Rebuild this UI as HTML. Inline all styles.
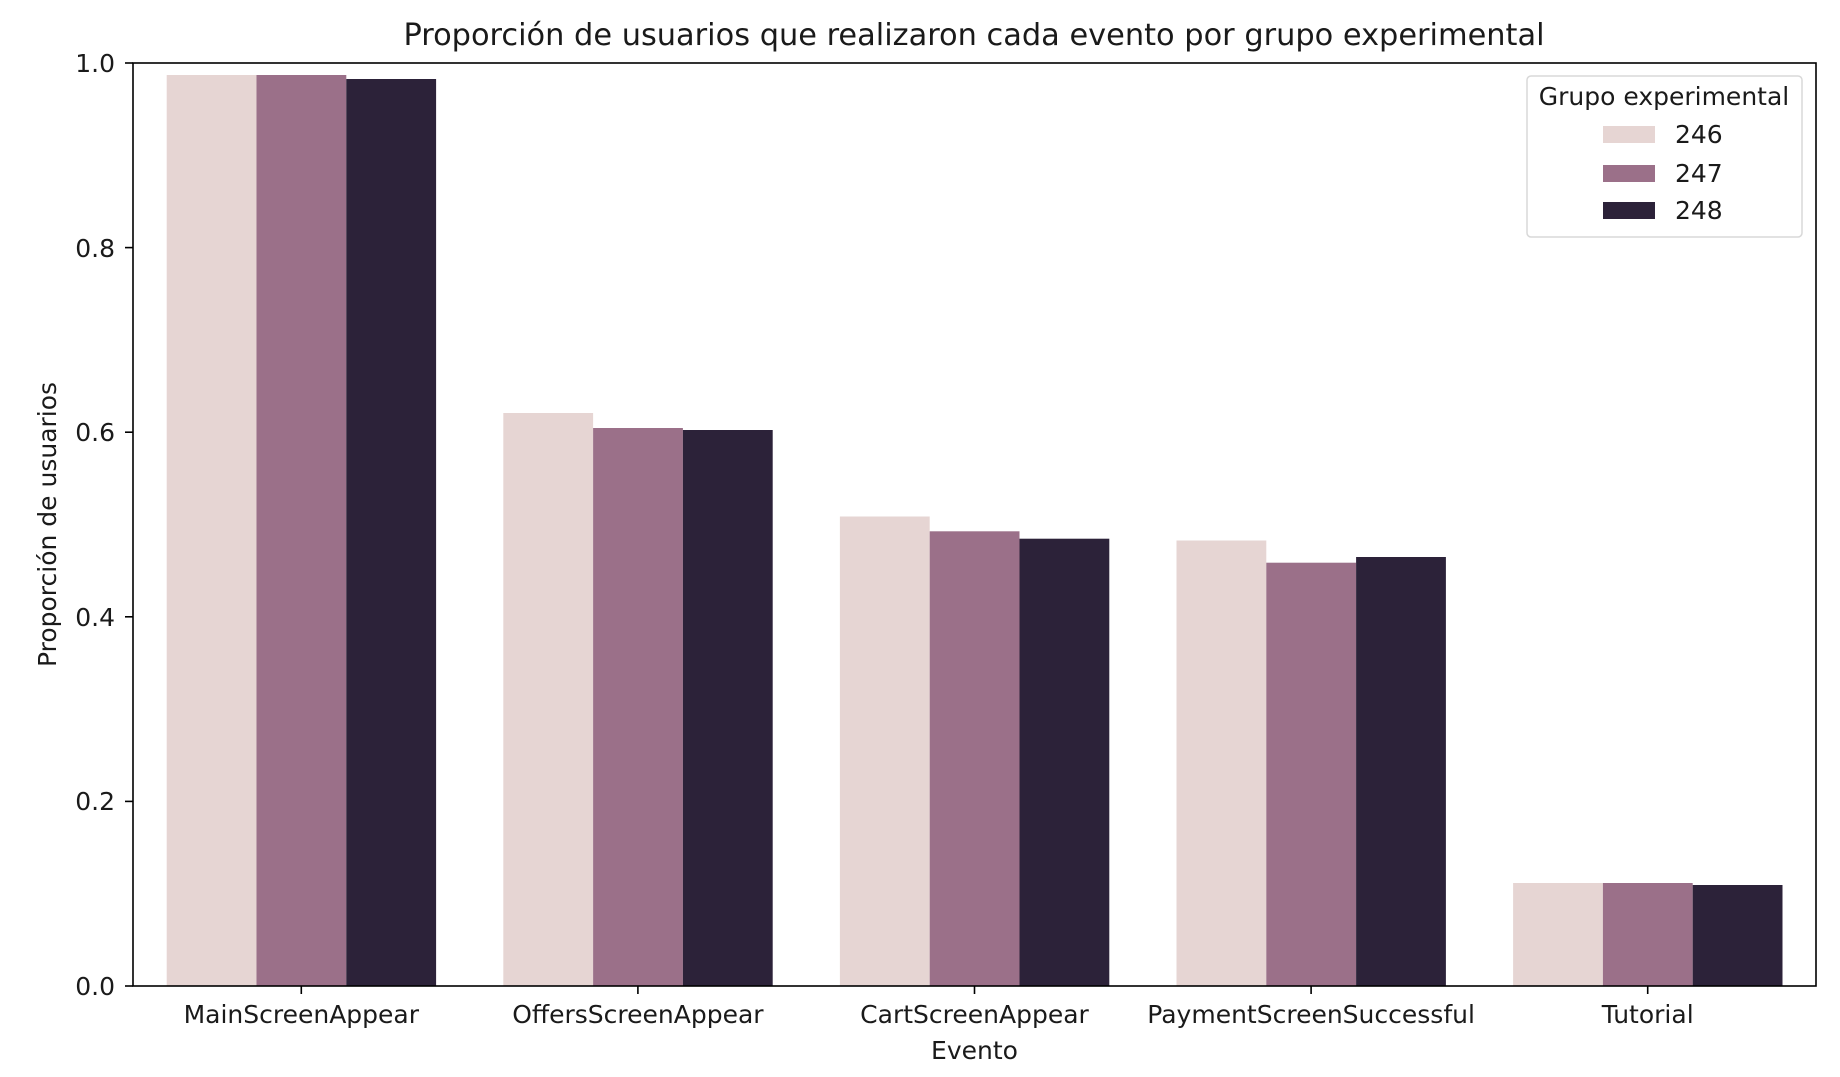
<!DOCTYPE html>
<html><head><meta charset="utf-8"><style>
html,body{margin:0;padding:0;background:#fff;}
svg text{font-family:"DejaVu Sans","Liberation Sans",sans-serif;fill:#1a1a1a;}
</style></head><body>
<svg width="1840" height="1072" xmlns="http://www.w3.org/2000/svg">
<rect width="1840" height="1072" fill="#fff"/>
<text x="974" y="45" font-size="30.4" text-anchor="middle">Proporción de usuarios que realizaron cada evento por grupo experimental</text>
<g>
<rect x="166.7" y="75" width="89.8" height="911" fill="#e6d5d3"/>
<rect x="256.5" y="75" width="89.8" height="911" fill="#9b7089"/>
<rect x="346.3" y="79" width="89.8" height="907" fill="#2c2239"/>

<rect x="503.3" y="413" width="89.8" height="573" fill="#e6d5d3"/>
<rect x="593.1" y="428" width="89.8" height="558" fill="#9b7089"/>
<rect x="682.9" y="430" width="89.8" height="556" fill="#2c2239"/>

<rect x="839.9" y="516.5" width="89.8" height="469.5" fill="#e6d5d3"/>
<rect x="929.7" y="531.3" width="89.8" height="454.7" fill="#9b7089"/>
<rect x="1019.5" y="538.7" width="89.8" height="447.3" fill="#2c2239"/>

<rect x="1176.5" y="540.5" width="89.8" height="445.5" fill="#e6d5d3"/>
<rect x="1266.3" y="562.7" width="89.8" height="423.3" fill="#9b7089"/>
<rect x="1356.1" y="557" width="89.8" height="429" fill="#2c2239"/>

<rect x="1513.1" y="883" width="89.8" height="103" fill="#e6d5d3"/>
<rect x="1602.9" y="883" width="89.8" height="103" fill="#9b7089"/>
<rect x="1692.7" y="885" width="89.8" height="101" fill="#2c2239"/>
</g>
<rect x="133" y="63" width="1683" height="923" fill="none" stroke="#000" stroke-width="1.6"/>
<g stroke="#000" stroke-width="1.6">
<line x1="125" y1="986" x2="133" y2="986"/><line x1="125" y1="801.4" x2="133" y2="801.4"/>
<line x1="125" y1="616.8" x2="133" y2="616.8"/><line x1="125" y1="432.2" x2="133" y2="432.2"/>
<line x1="125" y1="247.6" x2="133" y2="247.6"/><line x1="125" y1="63" x2="133" y2="63"/>
<line x1="301.3" y1="986" x2="301.3" y2="994"/><line x1="637.9" y1="986" x2="637.9" y2="994"/>
<line x1="974.5" y1="986" x2="974.5" y2="994"/><line x1="1311.1" y1="986" x2="1311.1" y2="994"/>
<line x1="1647.7" y1="986" x2="1647.7" y2="994"/>
</g>
<g font-size="25" text-anchor="end">
<text x="115" y="995">0.0</text><text x="115" y="810">0.2</text><text x="115" y="626">0.4</text>
<text x="115" y="441">0.6</text><text x="115" y="257">0.8</text><text x="115" y="72">1.0</text>
</g>
<g font-size="25" text-anchor="middle">
<text x="301.3" y="1023">MainScreenAppear</text><text x="637.9" y="1023">OffersScreenAppear</text>
<text x="974.5" y="1023">CartScreenAppear</text><text x="1311.1" y="1023">PaymentScreenSuccessful</text>
<text x="1647.7" y="1023">Tutorial</text>
<text x="974.5" y="1059">Evento</text>
<text transform="translate(56,524.5) rotate(-90)">Proporción de usuarios</text>
</g>
<rect x="1527" y="76" width="275" height="161" rx="4" fill="#fff" stroke="#d8d8d8" stroke-width="1.5"/>
<text x="1664" y="105" font-size="25" text-anchor="middle">Grupo experimental</text>
<rect x="1603" y="126" width="52" height="17" fill="#e6d5d3"/>
<rect x="1603" y="165" width="52" height="17" fill="#9b7089"/>
<rect x="1603" y="202" width="52" height="17" fill="#2c2239"/>
<g font-size="25"><text x="1675" y="143">246</text><text x="1675" y="182">247</text><text x="1675" y="219">248</text></g>
</svg>
</body></html>
